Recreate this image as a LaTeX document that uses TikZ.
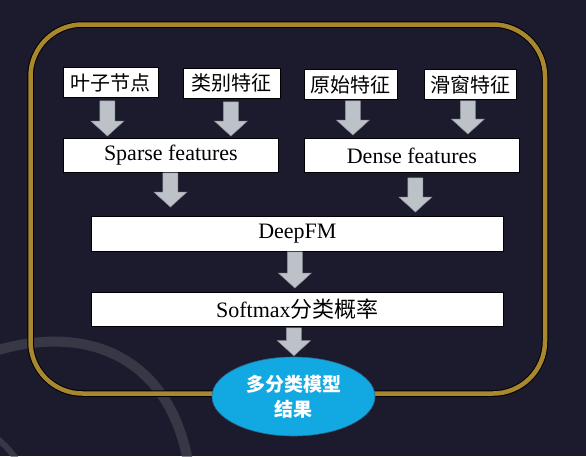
\documentclass[tikz,border=0pt]{standalone}
\usepackage{fontspec}
\setmainfont{Liberation Serif}
\newfontfamily\cjk{Noto Sans CJK SC}
\usetikzlibrary{calc,shapes.geometric}
\definecolor{bg}{HTML}{1B1B2D}
\definecolor{gold}{HTML}{A8872F}
\definecolor{arrowgrey}{HTML}{BDC1C8}
\definecolor{arrowedge}{HTML}{8F939B}
\definecolor{ellblue}{HTML}{12A8E2}
\definecolor{elledge}{HTML}{2C6A90}
\definecolor{swirl}{HTML}{4A4B57}
\tikzset{
  box/.style={draw=black, line width=0.8pt, fill=white, inner sep=0pt, anchor=north west, text=black},
  toplabel/.style={box, minimum width=95pt, minimum height=30pt, font=\cjk\fontsize{20}{20}\selectfont},
  widebox/.style={box, minimum height=34pt, font=\fontsize{22}{22}\selectfont},
  blockarrow/.style={fill=arrowgrey, draw=arrowedge, line width=0.5pt,
    to path={let \p1=(\tikztostart), \p2=(\tikztotarget) in
      (\x1-7.5pt,\y1) -- (\x1+7.5pt,\y1) -- (\x1+7.5pt,\y2+15pt) -- (\x1+16.5pt,\y2+15pt)
      -- (\x1,\y2) -- (\x1-16.5pt,\y2+15pt) -- (\x1-7.5pt,\y2+15pt) -- cycle}},
  swirlband/.style={draw=swirl, opacity=0.6}
}
\begin{document}
\begin{tikzpicture}[x=1pt,y=-1pt]
\useasboundingbox (0,0) rectangle (586,456);
\fill[bg] (0,0) rectangle (586,456);
\begin{scope}
  \clip (0,0) rectangle (586,456);
  \draw[swirlband, line width=10pt] (-5,351) .. controls (90,322) and (170,360) .. (188,462);
  \draw[swirlband, line width=6pt] (-6,436) .. controls (4,444) and (12,452) .. (18,462);
\end{scope}
% gold frame
\draw[black, line width=6.5pt, rounded corners=52pt] (30.5,24.5) rectangle (545,393.5);
\draw[gold, line width=4.5pt, rounded corners=52pt] (30.5,24.5) rectangle (545,393.5);

% top labels
\node[toplabel] (leaf)  at (63,67)  {叶子节点};
\node[toplabel, minimum width=97pt] (cat)   at (183,68) {类别特征};
\node[toplabel, minimum width=93pt] (raw)   at (304,69) {原始特征};
\node[toplabel, minimum width=92pt] (slide) at (424,69) {滑窗特征};

% feature boxes
\node[widebox, minimum width=215pt] (sparse) at (63,138)  {Sparse features};
\node[widebox, minimum width=215pt] (dense)  at (304,138) {Dense features};
\node[widebox, minimum width=412pt, minimum height=35pt] (deepfm) at (91,216) {DeepFM};
\node[widebox, minimum width=412pt] (softmax) at (91,292) {Softmax{\cjk 分类概率}};

% result ellipse
\node[ellipse, fill=ellblue, draw=elledge, line width=0.6pt, minimum width=163pt, minimum height=79pt,
      inner sep=0pt, align=center, text=white, font=\cjk\bfseries\fontsize{19}{25}\selectfont]
      (result) at (293.5,396.5) {多分类模型\\结果};

% block arrows
\draw[blockarrow] ([xshift=-3.5pt,yshift=-3pt]leaf.south) to ([yshift=2pt]sparse.north);
\draw[blockarrow] ([xshift=-1pt,yshift=-3pt]cat.south) to ([yshift=2pt]sparse.north);
\draw[blockarrow] ([xshift=2pt,yshift=-1pt]raw.south) to ([yshift=3pt]dense.north);
\draw[blockarrow] ([xshift=-2.5pt,yshift=-1pt]slide.south) to ([yshift=4pt]dense.north);
\draw[blockarrow] ([xshift=-0.5pt]sparse.south) to ([yshift=9pt]deepfm.north);
\draw[blockarrow] ([xshift=3.5pt,yshift=-5pt]dense.south) to ([yshift=4pt]deepfm.north);
\draw[blockarrow] ([xshift=-2.5pt]deepfm.south) to ([yshift=4pt]softmax.north);
\draw[blockarrow] ([xshift=-3.5pt,yshift=-1pt]softmax.south) to ([yshift=1pt]result.north);
\end{tikzpicture}
\end{document}
